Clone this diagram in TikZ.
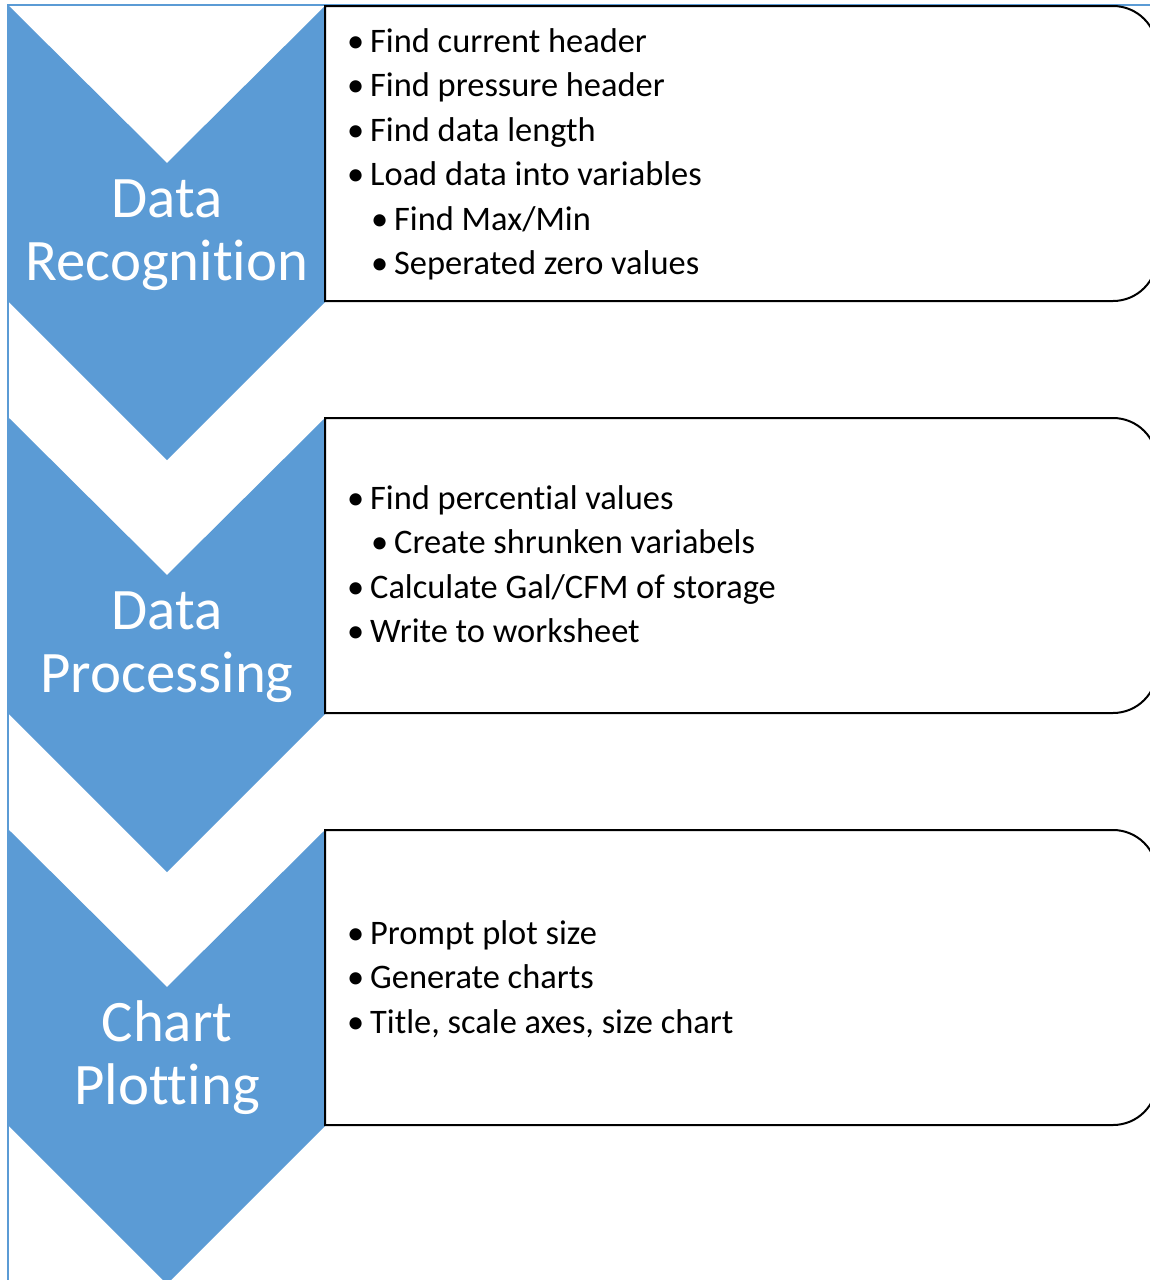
\documentclass[tikz,border=0pt]{standalone}
\usepackage{fontspec}
\setmainfont{Carlito}[RawFeature={-liga;-clig;-calt;-dlig;-hlig}]
\definecolor{stepblue}{HTML}{5B9BD5}
\tikzset{
  frameline/.style={draw=stepblue, line width=1.3pt},
  chevron/.style={fill=stepblue},
  detailbox/.style={draw=black, line width=2pt, fill=white},
  title/.style={anchor=base, inner sep=0pt, text=white, font=\fontsize{58.8}{63}\selectfont},
  item/.style={anchor=base west, inner sep=0pt, font=\fontsize{34.4}{44}\selectfont},
}
\newcommand{\bul}{\makebox[23pt][l]{•}}
\begin{document}
\begin{tikzpicture}[x=1pt, y=-1pt]
  \useasboundingbox (0,0) rectangle (1150,1280);
  \clip (0,0) rectangle (1150,1280);
  \fill[white] (0,0) rectangle (1150,1280);

  % outer frame edges
  \draw[frameline] (8,1281) -- (8,5) -- (1151,5);

  % the three chevrons and their boxes
  \foreach \dy in {0,412,824}{
    \fill[chevron] (9,6+\dy) -- (167,163+\dy) -- (325,6+\dy) -- (325,302+\dy)
      -- (167,460+\dy) -- (9,302+\dy) -- cycle;
    \draw[detailbox] (325,6+\dy) -- (1113,6+\dy)
      arc[start angle=-90, end angle=0, radius=44] -- (1157,257+\dy)
      arc[start angle=0, end angle=90, radius=44] -- (325,301+\dy) -- cycle;
  }

  % step titles
  \node[title] (t1a) at (167,217) {Data};
  \node[title] (t1b) at (167,280.5) {Recognition};
  \node[title] (t2a) at (167,629) {Data};
  \node[title] (t2b) at (167,692.5) {Processing};
  \node[title] (t3a) at (167,1041) {Chart};
  \node[title] (t3b) at (167,1104.5) {Plotting};

  % step details
  \node[item] (r1) at (347,52)    {\bul Find current header};
  \node[item] (r2) at (347,96.5)  {\bul Find pressure header};
  \node[item] (r3) at (347,141)   {\bul Find data length};
  \node[item] (r4) at (347,185.5) {\bul Load data into variables};
  \node[item] (r5) at (371,230)   {\bul Find Max/Min};
  \node[item] (r6) at (371,274.5) {\bul Seperated zero values};

  \node[item] (p1) at (347,509.5) {\bul Find percential values};
  \node[item] (p2) at (371,553.5) {\bul Create shrunken variabels};
  \node[item] (p3) at (347,598)   {\bul Calculate Gal/CFM of storage};
  \node[item] (p4) at (347,642)   {\bul Write to worksheet};

  \node[item] (c1) at (347,944.5) {\bul Prompt plot size};
  \node[item] (c2) at (347,988.5) {\bul Generate charts};
  \node[item] (c3) at (347,1033)  {\bul Title, scale axes, size chart};
\end{tikzpicture}
\end{document}
